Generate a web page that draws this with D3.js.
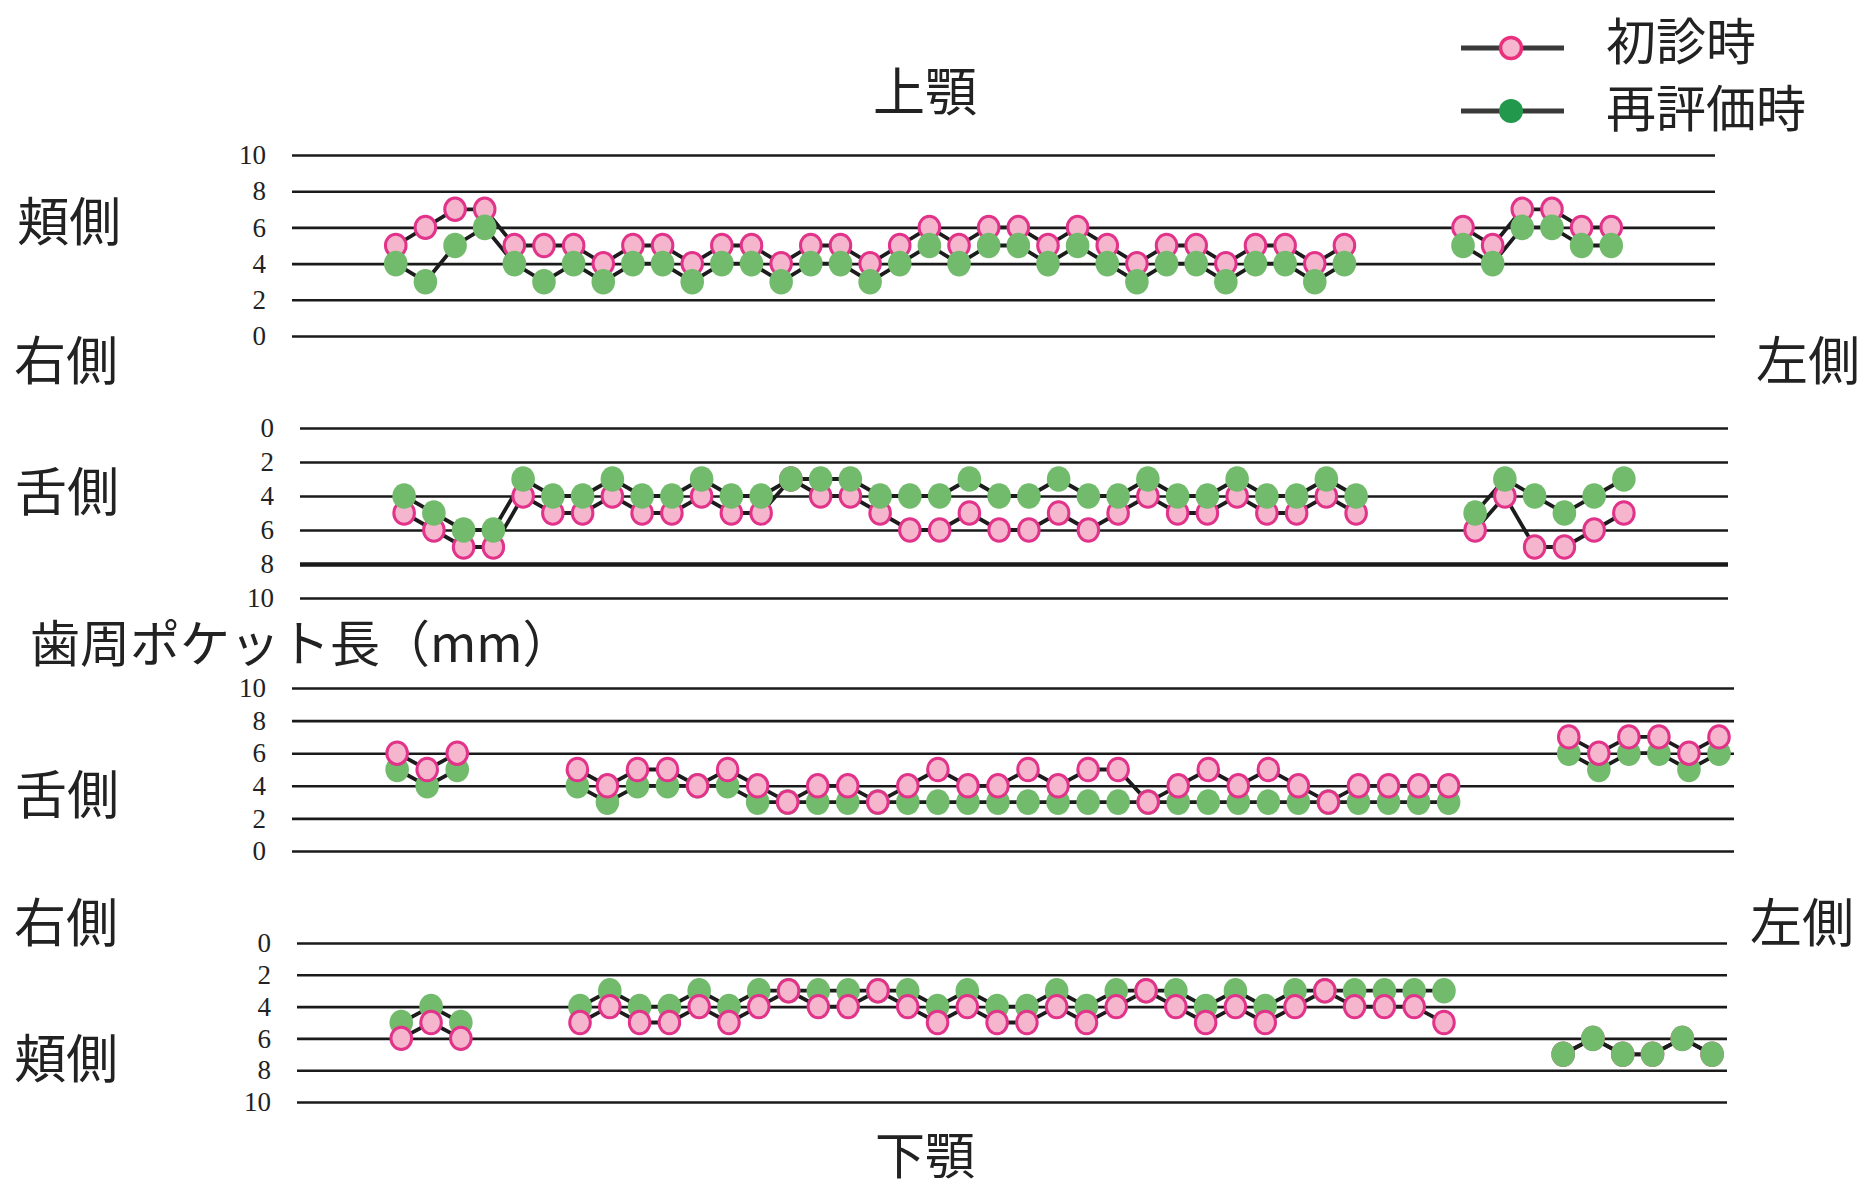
<!DOCTYPE html>
<html>
<head>
<meta charset="utf-8">
<script src="https://cdn.jsdelivr.net/npm/d3@7"></script>
<style>
  html, body { margin: 0; padding: 0; background: #fff; }
  svg { display: block; }
</style>
</head>
<body>
<svg id="chart" width="1865" height="1187"></svg>
<script>
// ---------- DATA (48 sites: 16 teeth x 3 sites; null = missing tooth) ----------
const siteCount = 48;
const tickValues = [0, 2, 4, 6, 8, 10];
const seriesNames = ["初診時", "再評価時"];

const N = null;
// 上顎 頬側
const upperBuccalInitial = [N,N,N, 5,6,7, 7,5,5, 5,4,5, 5,4,5, 5,4,5, 5,4,5, 6,5,6, 6,5,6, 5,4,5, 5,4,5, 5,4,5, N,N,N, 6,5,7, 7,6,6, N,N,N];
const upperBuccalReeval  = [N,N,N, 4,3,5, 6,4,3, 4,3,4, 4,3,4, 4,3,4, 4,3,4, 5,4,5, 5,4,5, 4,3,4, 4,3,4, 4,3,4, N,N,N, 5,4,6, 6,5,5, N,N,N];
// 上顎 舌側
const upperLingualInitial = [N,N,N, 5,6,7, 7,4,5, 5,4,5, 5,4,5, 5,3,4, 4,5,6, 6,5,6, 6,5,6, 5,4,5, 5,4,5, 5,4,5, N,N,N, 6,4,7, 7,6,5, N,N,N];
const upperLingualReeval  = [N,N,N, 4,5,6, 6,3,4, 4,3,4, 4,3,4, 4,3,3, 3,4,4, 4,3,4, 4,3,4, 4,3,4, 4,3,4, 4,3,4, N,N,N, 5,3,4, 5,4,3, N,N,N];
// 下顎 舌側
const lowerLingualInitial = [N,N,N, 6,5,6, N,N,N, 5,4,5, 5,4,5, 4,3,4, 4,3,4, 5,4,4, 5,4,5, 5,3,4, 5,4,5, 4,3,4, 4,4,4, N,N,N, 7,6,7, 7,6,7];
const lowerLingualReeval  = [N,N,N, 5,4,5, N,N,N, 4,3,4, 4,4,4, 3,3,3, 3,3,3, 3,3,3, 3,3,3, 3,3,3, 3,3,3, 3,3,3, 3,3,3, N,N,N, 6,5,6, 6,5,6];
// 下顎 頬側
const lowerBuccalInitial = [N,N,N, 6,5,6, N,N,N, 5,4,5, 5,4,5, 4,3,4, 4,3,4, 5,4,5, 5,4,5, 4,3,4, 5,4,5, 4,3,4, 4,4,5, N,N,N, 7,6,7, 7,6,7];
const lowerBuccalReeval  = [N,N,N, 5,4,5, N,N,N, 4,3,4, 4,3,4, 3,3,3, 3,3,3, 4,3,4, 4,3,4, 3,3,3, 4,3,4, 3,3,3, 3,3,3, N,N,N, 7,6,7, 7,6,7];

// ---------- LAYOUT / STYLE ----------
const panels = [
  { initial: upperBuccalInitial,  reeval: upperBuccalReeval,  x0: 292, x1: 1715, yZero: 336, yTen: 155, top: ["reeval","reeval","reeval"], heavyTick: null },
  { initial: upperLingualInitial, reeval: upperLingualReeval, x0: 300, x1: 1728, yZero: 428, yTen: 598, top: ["reeval","reeval","reeval"], heavyTick: 8 },
  { initial: lowerLingualInitial, reeval: lowerLingualReeval, x0: 292, x1: 1734, yZero: 851, yTen: 688, top: ["initial","initial","initial"], heavyTick: null },
  { initial: lowerBuccalInitial,  reeval: lowerBuccalReeval,  x0: 297, x1: 1727, yZero: 943, yTen: 1102, top: ["initial","initial","reeval"], heavyTick: null }
];

const style = {
  initial: { fill: "#f5b5cd", stroke: "#e2338a", sw: 3, rx: 10.3, ry: 11.2 },
  reeval:  { fill: "#72bb6c", stroke: "none", sw: 0, rx: 11.8, ry: 12.8 },
  line: "#1c1c1c",
  grid: "#1a1a1a"
};

const svg = d3.select("#chart");
svg.append("rect").attr("width", 1865).attr("height", 1187).attr("fill", "#fff");

const jp = "'Noto Sans CJK JP', 'Noto Sans', sans-serif";

panels.forEach(p => {
  const x = d3.scaleBand().domain(d3.range(siteCount)).range([p.x0, p.x1]).paddingInner(0).paddingOuter(0);
  const y = d3.scaleLinear().domain([0, 10]).range([p.yZero, p.yTen]);
  const cx = i => x(i) + x.bandwidth() / 2;

  // grid + tick labels via axis
  const ax = svg.append("g").attr("transform", `translate(${p.x0},0)`)
    .call(d3.axisLeft(y).tickValues(tickValues).tickSizeInner(-(p.x1 - p.x0)).tickSizeOuter(0).tickPadding(26).tickFormat(d3.format("d")));
  ax.select(".domain").remove();
  ax.selectAll(".tick line")
    .attr("stroke", style.grid)
    .attr("stroke-width", d => d === p.heavyTick ? 4.5 : 2.6);
  ax.selectAll(".tick text")
    .attr("fill", "#222")
    .style("font-family", "'Liberation Serif', 'Times New Roman', serif")
    .style("font-size", "27px");

  // lines
  const line = d3.line().defined(d => d.v != null).x(d => cx(d.i)).y(d => y(d.v));
  ["initial", "reeval"].forEach(k => {
    const pts = p[k].map((v, i) => ({ i, v }));
    svg.append("path").attr("d", line(pts))
      .attr("fill", "none").attr("stroke", style.line).attr("stroke-width", 3.8)
      .attr("stroke-linejoin", "round");
  });

  // groups of contiguous present sites
  const groups = [];
  let cur = null;
  p.initial.forEach((v, i) => {
    if (v != null) { if (!cur) { cur = []; groups.push(cur); } cur.push(i); }
    else cur = null;
  });

  groups.forEach((g, gi) => {
    const topKey = p.top[gi] || p.top[p.top.length - 1];
    const order = topKey === "reeval" ? ["initial", "reeval"] : ["reeval", "initial"];
    order.forEach(k => {
      const s = style[k];
      svg.append("g").selectAll("ellipse").data(g).join("ellipse")
        .attr("cx", i => cx(i)).attr("cy", i => y(p[k][i]))
        .attr("rx", s.rx).attr("ry", s.ry)
        .attr("fill", s.fill).attr("stroke", s.stroke).attr("stroke-width", s.sw);
    });
  });
});

// ---------- TEXT LABELS ----------
function label(txt, x, yy, anchor, size) {
  svg.append("text").attr("x", x).attr("y", yy).attr("text-anchor", anchor || "start")
    .attr("dominant-baseline", "central").attr("fill", "#222")
    .style("font-family", jp).style("font-size", (size || 52) + "px").text(txt);
}
label("上顎", 925, 88, "middle");
label("下顎", 925, 1152, "middle", 50);
label("頬側", 17, 218);
label("右側", 14, 357);
label("左側", 1756, 357);
label("舌側", 15, 488);
label("歯周ポケット長（mm）", 30, 640, "start", 50);
label("舌側", 15, 791);
label("右側", 14, 919);
label("左側", 1750, 919);
label("頬側", 14, 1055);

// ---------- LEGEND ----------
const legend = [
  { name: seriesNames[0], y: 48, fill: "#f6b6cf", stroke: "#ea2f7c", sw: 3.5, r: 10.5, ty: 38 },
  { name: seriesNames[1], y: 111, fill: "#22984c", stroke: "none", sw: 0, r: 12, ty: 105 }
];
legend.forEach(l => {
  svg.append("line").attr("x1", 1461).attr("x2", 1564).attr("y1", l.y).attr("y2", l.y)
    .attr("stroke", "#3a3a3a").attr("stroke-width", 5);
  svg.append("circle").attr("cx", 1511).attr("cy", l.y).attr("r", l.r)
    .attr("fill", l.fill).attr("stroke", l.stroke).attr("stroke-width", l.sw);
  label(l.name, 1606, l.ty, "start", 50);
});
</script>
</body>
</html>
